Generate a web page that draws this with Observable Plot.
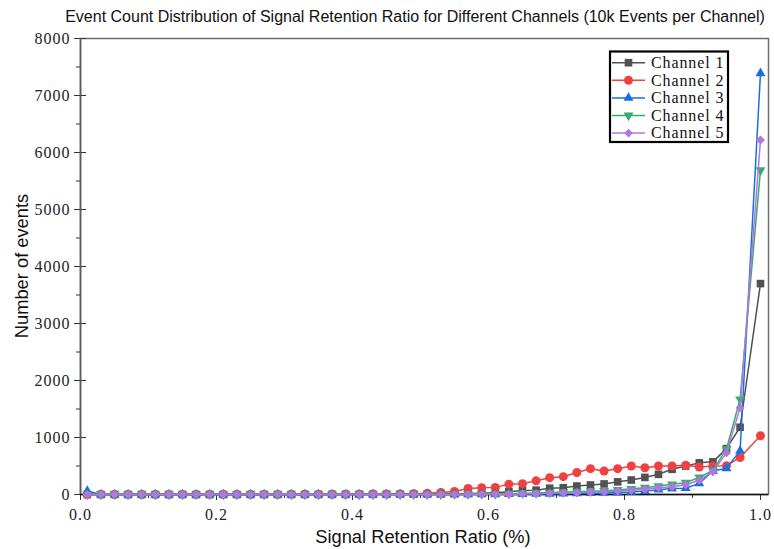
<!DOCTYPE html>
<html><head><meta charset="utf-8">
<script src="https://cdn.jsdelivr.net/npm/d3@7"></script>
<script src="https://cdn.jsdelivr.net/npm/@observablehq/plot@0.6"></script>
<style>
body{margin:0;background:#fff;}
#c svg{display:block;}
g[aria-label="x-axis tick label"] text, g[aria-label="y-axis tick label"] text{letter-spacing:1px;}
</style></head>
<body><div id="c"></div>
<script>
const xs = [0.01,0.03,0.05,0.07,0.09,0.11,0.13,0.15,0.17,0.19,0.21,0.23,0.25,0.27,0.29,0.31,0.33,0.35,0.37,0.39,0.41,0.43,0.45,0.47,0.49,0.51,0.53,0.55,0.57,0.59,0.61,0.63,0.65,0.67,0.69,0.71,0.73,0.75,0.77,0.79,0.81,0.83,0.85,0.87,0.89,0.91,0.93,0.95,0.97,1.00];
const ch1 = [0,0,0,0,0,0,0,0,0,0,0,0,0,1,0,1,1,1,2,2,3,3,4,5,6,8,10,14,18,22,30,50,72,76,110,119,149,167,185,222,254,300,354,442,500,555,573,805,1180,3700];
const ch2 = [0,0,0,0,0,0,0,1,0,1,1,1,2,2,2,3,3,4,5,5,6,7,8,10,14,20,35,52,105,120,125,182,190,240,295,313,385,453,412,453,500,470,500,500,512,482,500,505,650,1030];
const ch3 = [60,0,0,0,0,0,0,0,0,0,0,0,0,0,0,0,0,0,0,0,0,0,0,1,1,1,2,2,2,3,4,5,8,10,12,15,18,22,28,35,45,61,85,105,110,195,412,460,765,7390];
const ch4 = [0,0,0,0,0,0,0,0,0,0,0,0,0,0,0,0,0,0,0,0,0,0,1,1,2,2,3,4,5,7,10,15,22,28,35,42,50,58,65,80,100,119,149,179,207,300,424,800,1670,5690];
const ch5 = [0,0,0,0,0,0,0,0,0,0,0,0,0,0,0,0,0,0,0,0,0,0,0,0,1,1,1,2,2,3,3,4,12,14,20,28,32,45,49,60,74,91,119,135,170,250,400,730,1520,6220];

const seriesNames = ["Channel 1","Channel 2","Channel 3","Channel 4","Channel 5"];
const seriesValues = [ch1,ch2,ch3,ch4,ch5];
const colors = ["#515151","#F14040","#1A6FDF","#37AD6B","#B177DE"];

const xMajor = [0,0.2,0.4,0.6,0.8,1.0];
const xMinor = [0.1,0.3,0.5,0.7,0.9];
const yMajor = [0,1000,2000,3000,4000,5000,6000,7000,8000];
const yMinor = [500,1500,2500,3500,4500,5500,6500,7500];

const title = "Event Count Distribution of Signal Retention Ratio for Different Channels (10k Events per Channel)";
const xLabel = "Signal Retention Ratio (%)";
const yLabel = "Number of events";

const sqrt3 = Math.sqrt(3);
const triDown = {draw(ctx, size){
  const y = -Math.sqrt(size / (sqrt3 * 3));
  ctx.moveTo(0, -y * 2);
  ctx.lineTo(-sqrt3 * y, y);
  ctx.lineTo(sqrt3 * y, y);
  ctx.closePath();
}};
const symbols = ["square","circle","triangle",triDown,"diamond2"];
const radii = [4.3,4.5,3.7,3.7,4.0];

const serif = "'Liberation Serif','DejaVu Serif',serif";
const sans = "'Liberation Sans',Arial,sans-serif";

const W = 774, H = 549, mL = 80, mR = 6, mT = 38, mB = 55;
const fw = W - mL - mR, fh = H - mT - mB;

const marks = [
  Plot.frame({stroke:"#6e6e6e", strokeWidth:1.5}),
  Plot.tickY(yMajor, {y:d=>d, dx:-6, insetRight: fw-12, stroke:"#333", strokeWidth:1}),
  Plot.tickY(yMinor, {y:d=>d, dx:-4, insetRight: fw-4, stroke:"#333", strokeWidth:1}),
  Plot.tickX(xMajor, {x:d=>d, dy:6, insetTop: fh-6, stroke:"#333", strokeWidth:1}),
  Plot.tickX(xMinor, {x:d=>d, dy:4, insetTop: fh-4, stroke:"#333", strokeWidth:1}),
  Plot.axisY({ticks: yMajor, tickSize:0, tickPadding:10, tickFormat:d=>String(d), fontSize:16, fontFamily:serif, fill:"#222", label:null}),
  Plot.axisX({ticks: xMajor, tickSize:0, tickPadding:14, tickFormat:d=>d.toFixed(1), fontSize:16, fontFamily:serif, fill:"#222", label:null}),
  Plot.ruleY([0], {stroke:"#111", strokeWidth:1.5}),
  Plot.ruleX([0], {stroke:"#5a5a5a", strokeWidth:1.6}),
];
seriesValues.forEach((vals, si) => {
  const data = xs.map((x, i) => ({x, y: vals[i]}));
  marks.push(Plot.line(data, {x:"x", y:"y", stroke: colors[si], strokeWidth:1.5}));
  marks.push(Plot.dot(data, {x:"x", y:"y", fill: colors[si], stroke:"none", symbol: symbols[si], r: radii[si]}));
});

const chart = Plot.plot({
  width: W, height: H,
  marginLeft: mL, marginRight: mR, marginTop: mT, marginBottom: mB,
  x: {domain: [0, 1.0118]},
  y: {domain: [0, 8000]},
  style: {background:"#fff", overflow:"visible"},
  marks
});
document.getElementById("c").appendChild(chart);

const svg = d3.select(chart);
svg.append("text").attr("x", 415).attr("y", 22).attr("text-anchor","middle")
  .style("font-family", sans).style("font-size","16px").attr("fill","#111").text(title);
svg.append("text").attr("x", 423).attr("y", 543).attr("text-anchor","middle")
  .style("font-family", sans).style("font-size","18.3px").attr("fill","#111").text(xLabel);
svg.append("text").attr("transform","translate(28,266) rotate(-90)").attr("text-anchor","middle")
  .style("font-family", sans).style("font-size","18.3px").attr("fill","#111").text(yLabel);

// legend
const lg = svg.append("g");
lg.append("rect").attr("x",610).attr("y",51.5).attr("width",118).attr("height",90.5)
  .attr("fill","#fff").attr("stroke","#000").attr("stroke-width",2.2);
seriesNames.forEach((name, i) => {
  const cy = 62.7 + i * 17.6;
  lg.append("line").attr("x1",612).attr("x2",645).attr("y1",cy).attr("y2",cy)
    .attr("stroke",colors[i]).attr("stroke-width",1.5);
  const sym = typeof symbols[i] === "string" ? {square:d3.symbolSquare,circle:d3.symbolCircle,triangle:d3.symbolTriangle,diamond2:d3.symbolDiamond2}[symbols[i]] : symbols[i];
  lg.append("path").attr("transform",`translate(628.5,${cy})`)
    .attr("d", d3.symbol(sym, Math.PI * radii[i] * radii[i])())
    .attr("fill", colors[i]);
  lg.append("text").attr("x",651).attr("y",cy+5.3).attr("text-anchor","start")
    .style("font-family", serif).style("font-size","16px").style("letter-spacing","0.9px")
    .attr("fill","#111").text(name);
});
</script></body></html>
